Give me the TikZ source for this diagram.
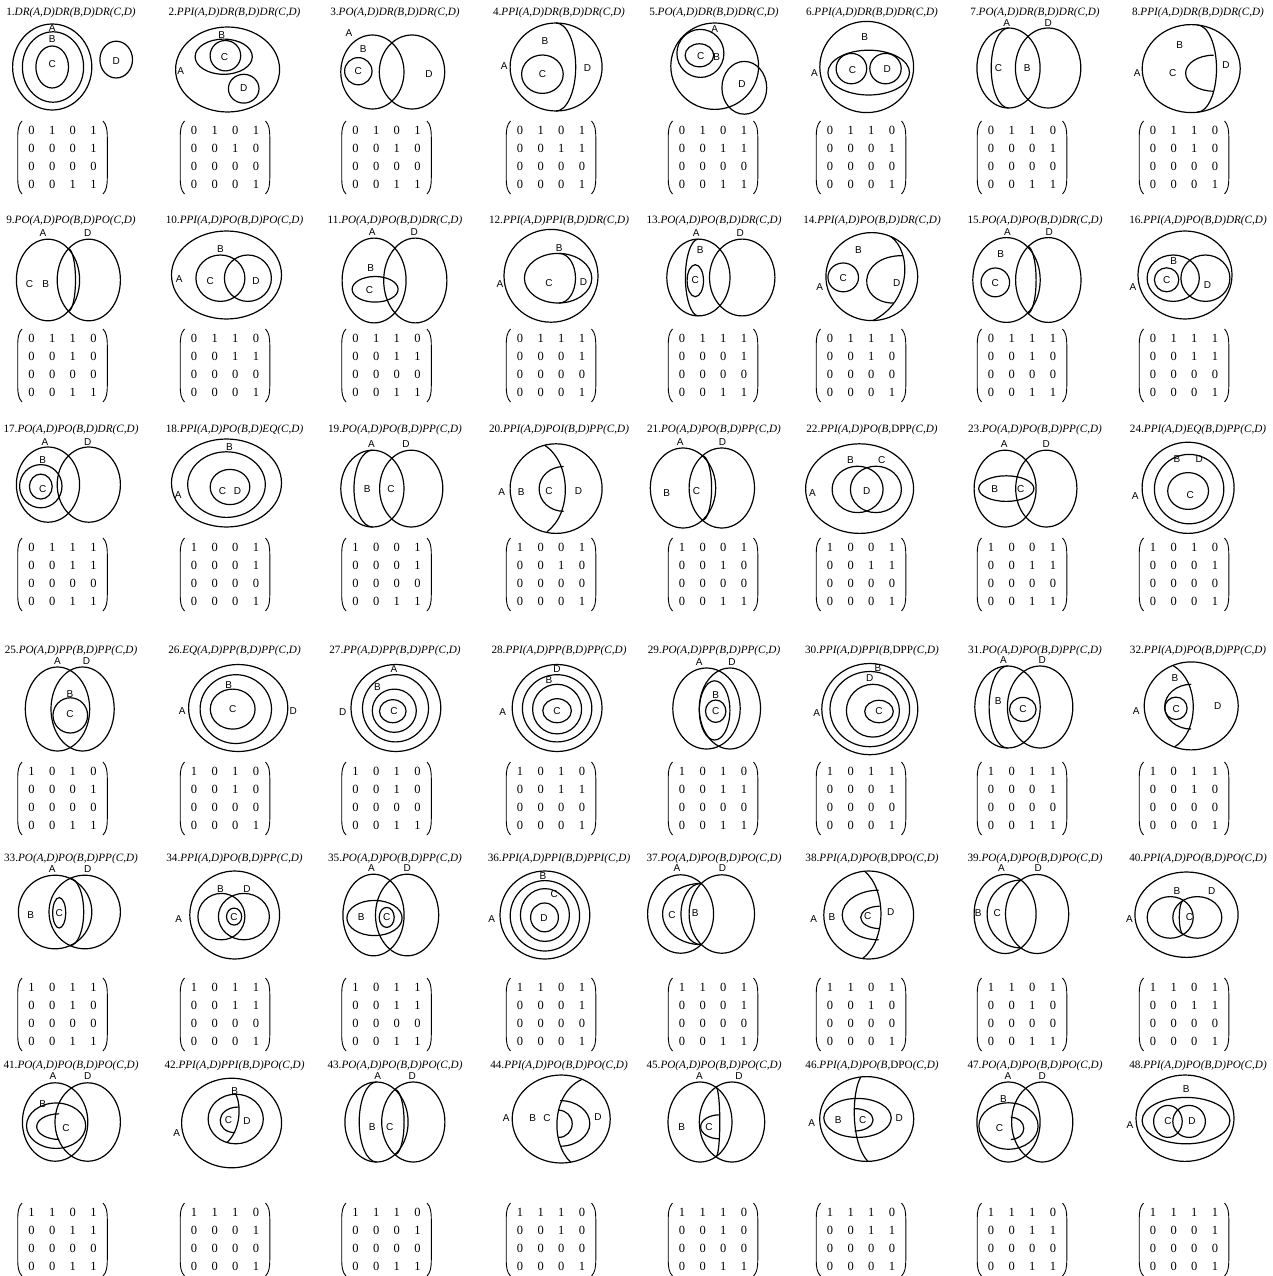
\documentclass[tikz,border=0pt]{standalone}
\usepackage{fontspec}
\setmainfont{Liberation Serif}
\newfontfamily\labfont{Liberation Sans}
\tikzset{
  dl/.style={line width=1.2pt},
  lab/.style={font=\labfont\fontsize{10}{11}\selectfont, inner sep=0pt},
  ttl/.style={font=\fontsize{11.2}{12}\selectfont, inner sep=0pt},
  matx/.style={font=\fontsize{12.5}{18.2}\selectfont, align=center, inner sep=0pt},
  brk/.style={line width=0.9pt}
}
\newcommand\Ell[4]{\draw[dl] (#1,#2) ellipse [x radius=#3pt, y radius=#4pt];}
\newcommand\RHalf[4]{\draw[dl] (#1,{#2-(#4)}) arc[start angle=90,end angle=-90,x radius=#3pt,y radius=#4pt];}
\newcommand\LHalf[4]{\draw[dl] (#1,{#2-(#4)}) arc[start angle=90,end angle=270,x radius=#3pt,y radius=#4pt];}
\newcounter{lbc}
\newcommand\Lbl[3]{\stepcounter{lbc}\node[lab] (lb\arabic{lbc}) at (#1,#2) {#3};}
\newcommand\Ttl[4]{\node[ttl] (#1) at (#2,#3) {#4};}
\def\mrow#1#2#3#4{\makebox[20.6pt]{#1}\makebox[20.6pt]{#2}\makebox[20.6pt]{#3}\makebox[20.6pt]{#4}}
\newcommand\Mat[7]{%
  \node[matx] (#1) at (#2,{#3+36.5}) {\mrow#4\\\mrow#5\\\mrow#6\\\mrow#7};
  \draw[brk] ({#2-40.5},#3) .. controls ({#2-44},{#3+3.5}) and ({#2-44.8},{#3+9}) .. ({#2-44.8},{#3+16}) -- ({#2-44.8},{#3+57}) .. controls ({#2-44.8},{#3+64}) and ({#2-44},{#3+69.5}) .. ({#2-40.5},{#3+73});
  \draw[brk] ({#2+40.5},#3) .. controls ({#2+44},{#3+3.5}) and ({#2+44.8},{#3+9}) .. ({#2+44.8},{#3+16}) -- ({#2+44.8},{#3+57}) .. controls ({#2+44.8},{#3+64}) and ({#2+44},{#3+69.5}) .. ({#2+40.5},{#3+73});
}
\begin{document}
\begin{tikzpicture}[x=1pt,y=-1pt]
\useasboundingbox (0,0) rectangle (1272,1276);
\fill[white] (0,0) rectangle (1272,1276);

% ---------- titles ----------
\Ttl{t1}{71}{13}{1.\textit{DR(A,D)DR(B,D)DR(C,D)}}
\Ttl{t2}{234.5}{13}{2.\textit{PPI(A,D)DR(B,D)DR(C,D)}}
\Ttl{t3}{395}{13}{3.\textit{PO(A,D)DR(B,D)DR(C,D)}}
\Ttl{t4}{559}{13}{4.\textit{PPI(A,D)DR(B,D)DR(C,D)}}
\Ttl{t5}{714}{13}{5.\textit{PO(A,D)DR(B,D)DR(C,D)}}
\Ttl{t6}{872}{13}{6.\textit{PPI(A,D)DR(B,D)DR(C,D)}}
\Ttl{t7}{1035}{13}{7.\textit{PO(A,D)DR(B,D)DR(C,D)}}
\Ttl{t8}{1198}{13}{8.\textit{PPI(A,D)DR(B,D)DR(C,D)}}
\Ttl{t9}{71}{221}{9.\textit{PO(A,D)PO(B,D)PO(C,D)}}
\Ttl{t10}{234.5}{221}{10.\textit{PPI(A,D)PO(B,D)PO(C,D)}}
\Ttl{t11}{395}{221}{11.\textit{PO(A,D)PO(B,D)DR(C,D)}}
\Ttl{t12}{559}{221}{12.\textit{PPI(A,D)PPI(B,D)DR(C,D)}}
\Ttl{t13}{714}{221}{13.\textit{PO(A,D)PO(B,D)DR(C,D)}}
\Ttl{t14}{872}{221}{14.\textit{PPI(A,D)PO(B,D)DR(C,D)}}
\Ttl{t15}{1035}{221}{15.\textit{PO(A,D)PO(B,D)DR(C,D)}}
\Ttl{t16}{1198}{221}{16.\textit{PPI(A,D)PO(B,D)DR(C,D)}}
\Ttl{t17}{71}{430}{17.\textit{PO(A,D)PO(B,D)DR(C,D)}}
\Ttl{t18}{234.5}{430}{18.\textit{PPI(A,D)PO(B,D)EQ(C,D)}}
\Ttl{t19}{395}{430}{19.\textit{PO(A,D)PO(B,D)PP(C,D)}}
\Ttl{t20}{559}{430}{20.\textit{PPI(A,D)POI(B,D)PP(C,D)}}
\Ttl{t21}{714}{430}{21.\textit{PO(A,D)PO(B,D)PP(C,D)}}
\Ttl{t22}{872}{430}{22.\textit{PPI(A,D)PO(B,}DPP\textit{(C,D)}}
\Ttl{t23}{1035}{430}{23.\textit{PO(A,D)PO(B,D)PP(C,D)}}
\Ttl{t24}{1198}{430}{24.\textit{PPI(A,D)EQ(B,D)PP(C,D)}}
\Ttl{t25}{71}{651}{25.\textit{PO(A,D)PP(B,D)PP(C,D)}}
\Ttl{t26}{234.5}{651}{26.\textit{EQ(A,D)PP(B,D)PP(C,D)}}
\Ttl{t27}{395}{651}{27.\textit{PP(A,D)PP(B,D)PP(C,D)}}
\Ttl{t28}{559}{651}{28.\textit{PPI(A,D)PP(B,D)PP(C,D)}}
\Ttl{t29}{714}{651}{29.\textit{PO(A,D)PP(B,D)PP(C,D)}}
\Ttl{t30}{872}{651}{30.\textit{PPI(A,D)PPI(B,}DPP\textit{(C,D)}}
\Ttl{t31}{1035}{651}{31.\textit{PO(A,D)PO(B,D)PP(C,D)}}
\Ttl{t32}{1198}{651}{32.\textit{PPI(A,D)PO(B,D)PP(C,D)}}
\Ttl{t33}{71}{859}{33.\textit{PO(A,D)PO(B,D)PP(C,D)}}
\Ttl{t34}{234.5}{859}{34.\textit{PPI(A,D)PO(B,D)PP(C,D)}}
\Ttl{t35}{395}{859}{35.\textit{PO(A,D)PO(B,D)PP(C,D)}}
\Ttl{t36}{559}{859}{36.\textit{PPI(A,D)PPI(B,D)PPI(C,D)}}
\Ttl{t37}{714}{859}{37.\textit{PO(A,D)PO(B,D)PO(C,D)}}
\Ttl{t38}{872}{859}{38.\textit{PPI(A,D)PO(B,}DPO\textit{(C,D)}}
\Ttl{t39}{1035}{859}{39.\textit{PO(A,D)PO(B,D)PO(C,D)}}
\Ttl{t40}{1198}{859}{40.\textit{PPI(A,D)PO(B,D)PO(C,D)}}
\Ttl{t41}{71}{1066}{41.\textit{PO(A,D)PO(B,D)PO(C,D)}}
\Ttl{t42}{234.5}{1066}{42.\textit{PPI(A,D)PPI(B,D)PO(C,D)}}
\Ttl{t43}{395}{1066}{43.\textit{PO(A,D)PO(B,D)PO(C,D)}}
\Ttl{t44}{559}{1066}{44.\textit{PPI(A,D)PO(B,D)PO(C,D)}}
\Ttl{t45}{714}{1066}{45.\textit{PO(A,D)PO(B,D)PO(C,D)}}
\Ttl{t46}{872}{1066}{46.\textit{PPI(A,D)PO(B,}DPO\textit{(C,D)}}
\Ttl{t47}{1035}{1066}{47.\textit{PO(A,D)PO(B,D)PO(C,D)}}
\Ttl{t48}{1198}{1066}{48.\textit{PPI(A,D)PO(B,D)PO(C,D)}}

% ---------- matrices ----------
\Mat{m1}{62.5}{121}{0101}{0001}{0000}{0011}
\Mat{m2}{225}{121}{0101}{0010}{0000}{0001}
\Mat{m3}{386.5}{121}{0101}{0010}{0000}{0011}
\Mat{m4}{551}{121}{0101}{0011}{0000}{0001}
\Mat{m5}{713}{121}{0101}{0011}{0000}{0011}
\Mat{m6}{861}{121}{0110}{0001}{0000}{0001}
\Mat{m7}{1022}{121}{0110}{0001}{0000}{0011}
\Mat{m8}{1184}{121}{0110}{0010}{0000}{0001}
\Mat{m9}{62.5}{329}{0110}{0010}{0000}{0011}
\Mat{m10}{225}{329}{0110}{0011}{0000}{0001}
\Mat{m11}{386.5}{329}{0110}{0011}{0000}{0011}
\Mat{m12}{551}{329}{0111}{0001}{0000}{0001}
\Mat{m13}{713}{329}{0111}{0001}{0000}{0011}
\Mat{m14}{861}{329}{0111}{0010}{0000}{0001}
\Mat{m15}{1022}{329}{0111}{0010}{0000}{0011}
\Mat{m16}{1184}{329}{0111}{0011}{0000}{0001}
\Mat{m17}{62.5}{538}{0111}{0011}{0000}{0011}
\Mat{m18}{225}{538}{1001}{0001}{0000}{0001}
\Mat{m19}{386.5}{538}{1001}{0001}{0000}{0011}
\Mat{m20}{551}{538}{1001}{0010}{0000}{0001}
\Mat{m21}{713}{538}{1001}{0010}{0000}{0011}
\Mat{m22}{861}{538}{1001}{0011}{0000}{0001}
\Mat{m23}{1022}{538}{1001}{0011}{0000}{0011}
\Mat{m24}{1184}{538}{1010}{0001}{0000}{0001}
\Mat{m25}{62.5}{762}{1010}{0001}{0000}{0011}
\Mat{m26}{225}{762}{1010}{0010}{0000}{0001}
\Mat{m27}{386.5}{762}{1010}{0010}{0000}{0011}
\Mat{m28}{551}{762}{1010}{0011}{0000}{0001}
\Mat{m29}{713}{762}{1010}{0011}{0000}{0011}
\Mat{m30}{861}{762}{1011}{0001}{0000}{0001}
\Mat{m31}{1022}{762}{1011}{0001}{0000}{0011}
\Mat{m32}{1184}{762}{1011}{0010}{0000}{0001}
\Mat{m33}{62.5}{978}{1011}{0010}{0000}{0011}
\Mat{m34}{225}{978}{1011}{0011}{0000}{0001}
\Mat{m35}{386.5}{978}{1011}{0011}{0000}{0011}
\Mat{m36}{551}{978}{1101}{0001}{0000}{0001}
\Mat{m37}{713}{978}{1101}{0001}{0000}{0011}
\Mat{m38}{861}{978}{1101}{0010}{0000}{0001}
\Mat{m39}{1022}{978}{1101}{0010}{0000}{0011}
\Mat{m40}{1184}{978}{1101}{0011}{0000}{0001}
\Mat{m41}{62.5}{1203}{1101}{0011}{0000}{0011}
\Mat{m42}{225}{1203}{1110}{0001}{0000}{0001}
\Mat{m43}{386.5}{1203}{1110}{0001}{0000}{0011}
\Mat{m44}{551}{1203}{1110}{0010}{0000}{0001}
\Mat{m45}{713}{1203}{1110}{0010}{0000}{0011}
\Mat{m46}{861}{1203}{1110}{0011}{0000}{0001}
\Mat{m47}{1022}{1203}{1110}{0011}{0000}{0011}
\Mat{m48}{1184}{1203}{1111}{0001}{0000}{0001}

% ---------- row 1 ----------
\begin{scope}[shift={(52.2,67)}]
\Ell{0}{0}{39.6}{43}\Ell{0.8}{0}{30.6}{35.2}\Ell{0}{0}{16.3}{21}\Ell{64}{-7.4}{16.3}{18.4}
\Lbl{0}{-39.4}{A}\Lbl{0}{-28}{B}\Lbl{0}{-3}{C}\Lbl{64}{-5.5}{D}
\end{scope}
\begin{scope}[shift={(227.6,69.5)}]
\Ell{0}{0}{52}{42.5}\Ell{-3.9}{-12.8}{28.6}{17.6}\Ell{-2.2}{-13.8}{15.3}{15.2}\Ell{16.1}{19.2}{15.3}{14.4}
\Lbl{-47}{2}{A}\Lbl{-6}{-34}{B}\Lbl{-3}{-12}{C}\Lbl{16.1}{19}{D}
\end{scope}
\begin{scope}[shift={(392.2,72)}]
\Ell{-19.8}{0}{31.6}{37}\Ell{19.8}{0}{32.7}{37}\Ell{-33.9}{-0.8}{13.7}{13.6}
\Lbl{-43.3}{-39}{A}\Lbl{-29}{-23}{B}\Lbl{-33.9}{-0.8}{C}\Lbl{36.7}{1.6}{D}
\end{scope}
\begin{scope}[shift={(556.1,67)}]
\Ell{0}{0}{46}{44}\RHalf{0}{0}{19.6}{44}\Ell{-13.7}{7.2}{20.8}{19.2}
\Lbl{-52}{-1}{A}\Lbl{-11.2}{-25.8}{B}\Lbl{-13.5}{7.5}{C}\Lbl{31.5}{0.8}{D}
\end{scope}
\begin{scope}[shift={(714.7,66.2)}]
\Ell{0}{0}{43.9}{43.2}\Ell{-14.3}{-12.8}{23.5}{24}\Ell{-15.3}{-10.9}{14.3}{11.5}\Ell{29.6}{21.6}{22.4}{26.4}
\Lbl{0}{-37}{A}\Lbl{-14}{-10}{C}\Lbl{2}{-9}{B}\Lbl{27.3}{17.6}{D}
\end{scope}
\begin{scope}[shift={(866.7,67)}]
\Ell{0}{0}{46.9}{45.6}\Ell{2}{5.6}{40.8}{22.4}\Ell{-15.3}{1.6}{15.3}{15.2}\Ell{18.8}{1.6}{15.7}{15.2}
\Lbl{-2}{-29.6}{B}\Lbl{-52.2}{5.6}{A}\Lbl{-14.3}{3}{C}\Lbl{20.4}{2.4}{D}
\end{scope}
\begin{scope}[shift={(1028.3,68)}]
\Ell{-19.8}{0}{31.6}{40}\Ell{19.8}{0}{32.7}{40}\LHalf{-19.8}{0}{17.3}{40}
\Lbl{-21.6}{-45}{A}\Lbl{20}{-45}{D}\Lbl{-29.8}{0}{C}\Lbl{-1.2}{0}{B}
\end{scope}
\begin{scope}[shift={(1191.2,68.6)}]
\Ell{0}{0}{49}{44}\RHalf{6}{0}{19.3}{43.6}\LHalf{22.4}{4.6}{28}{18}
\Lbl{-11.4}{-23.8}{B}\Lbl{-54}{4.6}{A}\Lbl{-18.4}{4}{C}\Lbl{34.7}{-3.7}{D}
\end{scope}

% ---------- row 2 ----------
\begin{scope}[shift={(68.4,280)}]
\Ell{-20.4}{0}{31.6}{40.8}\Ell{20.4}{0}{31.6}{40.8}\RHalf{0}{0}{7.1}{31.2}
\Lbl{-25.5}{-47}{A}\Lbl{19.4}{-47}{D}\Lbl{-38.9}{4}{C}\Lbl{-22.7}{4}{B}
\end{scope}
\begin{scope}[shift={(226.5,275)}]
\Ell{0}{0}{55}{44}\Ell{-6.1}{3.2}{24.5}{23.2}\Ell{21.4}{3.2}{23.5}{23.2}
\Lbl{-6.1}{-26.4}{B}\Lbl{-47.3}{4}{A}\Lbl{-16.3}{5.6}{C}\Lbl{29.6}{5.6}{D}
\end{scope}
\begin{scope}[shift={(394.7,280.5)}]
\Ell{-20.6}{0}{32}{42.4}\Ell{20.6}{0}{31.6}{42.4}\Ell{-19.6}{8.8}{23}{12.8}
\Lbl{-22.4}{-48}{A}\Lbl{19.6}{-48}{D}\Lbl{-24}{-12}{B}\Lbl{-25.3}{9.4}{C}
\end{scope}
\begin{scope}[shift={(551,275.8)}]
\Ell{0}{0}{47}{46.4}\Ell{7.1}{2.4}{33.7}{24.8}\RHalf{8.2}{2.4}{16.3}{24.8}
\Lbl{8.2}{-27.7}{B}\Lbl{-51}{8.6}{A}\Lbl{-2}{7.4}{C}\Lbl{32.6}{6.4}{D}
\end{scope}
\begin{scope}[shift={(720.2,277.5)}]
\Ell{-21.8}{0}{31.6}{38.4}\Ell{22}{0}{32.7}{38.4}\LHalf{-21.8}{0}{13}{38.4}\Ell{-24.9}{3.2}{8.2}{16}
\Lbl{-24}{-44}{A}\Lbl{20}{-44}{D}\Lbl{-20}{-27.8}{B}\Lbl{-24.9}{2.2}{C}
\end{scope}
\begin{scope}[shift={(871.8,276.6)}]
\Ell{0}{0}{45.9}{44}
\draw[dl] (19,-40) .. controls (40,-25) and (40,25) .. (1,44);
\draw[dl] (31,-21) .. controls (-15.5,-21) and (-15.5,26.5) .. (22,26.5);
\Ell{-28.6}{0.8}{15.3}{14.4}
\Lbl{-13.3}{-26.4}{B}\Lbl{-52}{10}{A}\Lbl{-28.6}{1.4}{C}\Lbl{25}{6}{D}
\end{scope}
\begin{scope}[shift={(1027.1,280)}]
\Ell{-20.6}{0}{33.7}{42.4}\Ell{21.2}{0}{32.7}{42.4}\RHalf{0.3}{0}{8.7}{33.6}\Ell{-31.8}{2.4}{14.3}{14.4}
\Lbl{-19.6}{-48.4}{A}\Lbl{22}{-48.4}{D}\Lbl{-26.5}{-26}{B}\Lbl{-31.8}{3}{C}
\end{scope}
\begin{scope}[shift={(1185,275)}]
\Ell{0}{0}{47}{44}\Ell{-11.8}{3.2}{26.1}{23.2}\Ell{20.4}{3.2}{24.5}{23.2}\Ell{-18.4}{4.8}{12.2}{12}
\Lbl{-52}{12}{A}\Lbl{-11.4}{-13.6}{B}\Lbl{-18.4}{5}{C}\Lbl{22.4}{10.4}{D}
\end{scope}

% ---------- row 3 ----------
\begin{scope}[shift={(68.4,484.6)}]
\Ell{-20.4}{0}{31.6}{37.6}\Ell{20.4}{0}{31.6}{37.6}\Ell{-27.6}{1.6}{21.2}{21.6}\Ell{-27.6}{2}{11.4}{12.5}
\Lbl{-23.5}{-43}{A}\Lbl{19.4}{-43}{D}\Lbl{-25.7}{-24.5}{B}\Lbl{-25.7}{4}{C}
\end{scope}
\begin{scope}[shift={(226.5,483)}]
\Ell{0}{0}{55}{44}\Ell{0}{1.6}{38.8}{32.8}\Ell{3.5}{4}{19.8}{17.6}
\Lbl{2.9}{-36}{B}\Lbl{-48.2}{12}{A}\Lbl{-4}{8}{C}\Lbl{11}{8}{D}
\end{scope}
\begin{scope}[shift={(391.8,488.6)}]
\Ell{-19.4}{0}{31.6}{38.4}\Ell{19.4}{0}{31.6}{38.4}\LHalf{-19.4}{0}{18.4}{38.4}
\Lbl{-20.4}{-44.5}{A}\Lbl{14.3}{-44.5}{D}\Lbl{-24.5}{0}{B}\Lbl{-0.8}{0}{C}
\end{scope}
\begin{scope}[shift={(556.1,488.6)}]
\Ell{0}{0}{46}{44.8}
\draw[dl] (-11.2,-43.2) .. controls (15.7,-25) and (15.7,25) .. (-9.2,43.2);
\LHalf{7.5}{0.3}{24.5}{22.4}
\Lbl{-54.5}{3.2}{A}\Lbl{-35}{3.2}{B}\Lbl{-7.1}{2.6}{C}\Lbl{22.4}{2.6}{D}
\end{scope}
\begin{scope}[shift={(702.4,488)}]
\Ell{-19.4}{0}{32.7}{40}\Ell{19.4}{0}{32.7}{40}\RHalf{0}{0}{9.2}{32.2}
\Lbl{-22.2}{-46}{A}\Lbl{20.2}{-46}{D}\Lbl{-35.7}{4.8}{B}\Lbl{-5.9}{3.2}{C}
\end{scope}
\begin{scope}[shift={(859.6,488.6)}]
\Ell{0}{0}{54}{44.8}\Ell{-2}{0.8}{25.5}{23.2}\Ell{16.3}{0.8}{25.5}{23.2}
\Lbl{-9.2}{-28.8}{B}\Lbl{22.2}{-28.8}{C}\Lbl{-47.1}{4.2}{A}\Lbl{7.1}{2.2}{D}
\end{scope}
\begin{scope}[shift={(1025.7,488.6)}]
\Ell{-20.6}{0}{31}{38.4}\Ell{20.6}{0}{30.6}{38.4}\Ell{-19.4}{0}{27.6}{12.8}
\Lbl{-21.4}{-44.5}{A}\Lbl{20.6}{-44.5}{D}\Lbl{-31}{0}{B}\Lbl{-5.1}{0}{C}
\end{scope}
\begin{scope}[shift={(1188.1,487.8)}]
\Ell{0}{0}{46}{45.6}\Ell{1}{1.3}{34.7}{34.7}\Ell{0}{3.2}{20.4}{18.4}
\Lbl{-11.2}{-29}{B}\Lbl{11.2}{-29}{D}\Lbl{-53}{8}{A}\Lbl{2.2}{7.2}{C}
\end{scope}

% ---------- row 4 ----------
\begin{scope}[shift={(70,709)}]
\Ell{-12.5}{0}{32.2}{42}\Ell{12.6}{0}{31.6}{42}\Ell{0.3}{6.4}{17.3}{17.6}
\Lbl{-12.5}{-48}{A}\Lbl{16.5}{-48}{D}\Lbl{0}{-15}{B}\Lbl{0}{5.4}{C}
\end{scope}
\begin{scope}[shift={(238.2,708)}]
\Ell{0}{0}{49.6}{43.5}\Ell{-2.4}{1.1}{35.7}{34.4}\Ell{-5.5}{1.1}{22.4}{20}
\Lbl{-56}{3.5}{A}\Lbl{55}{3.5}{D}\Lbl{-9.6}{-23}{B}\Lbl{-5.5}{1.3}{C}
\end{scope}
\begin{scope}[shift={(395.9,708)}]
\Ell{0}{0}{44.9}{43.5}\Ell{-0.4}{0.3}{33}{33.6}\Ell{-1.6}{2.7}{22}{21.6}\Ell{-3.1}{3.2}{13.3}{11.5}
\Lbl{-2}{-38.5}{A}\Lbl{-18.4}{-21}{B}\Lbl{-2}{3.5}{C}\Lbl{-53.1}{4.5}{D}
\end{scope}
\begin{scope}[shift={(557.1,708)}]
\Ell{0}{0}{44.9}{43.5}\Ell{0}{0.3}{34.7}{33.6}\Ell{0}{1.1}{24.5}{24.8}\Ell{0}{2.7}{14.3}{12}
\Lbl{0}{-38.5}{D}\Lbl{-8.2}{-27.5}{B}\Lbl{0}{2.6}{C}\Lbl{-54.3}{4.5}{A}
\end{scope}
\begin{scope}[shift={(718.1,708.5)}]
\Ell{-11.6}{0}{33.7}{40.5}\Ell{11.8}{0}{30.6}{40.5}\Ell{-3.5}{1.9}{15.3}{29.6}\Ell{-2.4}{2.7}{10.2}{11.2}
\Lbl{-18.8}{-46.5}{A}\Lbl{13.9}{-46.5}{D}\Lbl{-2.4}{-13.3}{B}\Lbl{-2.4}{2.7}{C}
\end{scope}
\begin{scope}[shift={(869.8,709.1)}]
\Ell{0}{0}{48}{45.6}\Ell{0}{0}{39.8}{37.6}\Ell{3.1}{1.6}{26.5}{26.4}\Ell{9.2}{2.4}{14.3}{11.2}
\Lbl{8.2}{-41.5}{B}\Lbl{0}{-31}{D}\Lbl{9.2}{1.5}{C}\Lbl{-53}{3.5}{A}
\end{scope}
\begin{scope}[shift={(1023.8,707)}]
\Ell{-16.3}{0}{32.7}{41}\Ell{16.3}{0}{32.7}{41}\LHalf{-16.3}{0}{18.4}{41}\Ell{-1}{2.4}{13.3}{12}
\Lbl{-20.4}{-47}{A}\Lbl{18.4}{-47}{D}\Lbl{-25.7}{-6.4}{B}\Lbl{-0.8}{2.4}{C}
\end{scope}
\begin{scope}[shift={(1191.2,705.9)}]
\Ell{0}{0}{47}{44}
\draw[dl] (-18.4,-40.5) .. controls (8.5,-25) and (8.5,25) .. (-16.3,40.8);
\LHalf{0}{0.8}{26.5}{22.4}\Ell{-15.3}{2.4}{11.2}{11.2}
\Lbl{-16.3}{-28}{B}\Lbl{-55}{5.6}{A}\Lbl{-15.1}{3.4}{C}\Lbl{26.5}{0.2}{D}
\end{scope}

% ---------- row 5 ----------
\begin{scope}[shift={(69.8,912)}]
\Ell{-14.7}{0}{36.7}{36.8}\Ell{14.9}{0}{35.7}{36.8}\RHalf{0}{0}{13.9}{33.7}\Ell{-10.6}{0.8}{6.5}{15.2}
\Lbl{-17.6}{-43}{A}\Lbl{18}{-43}{D}\Lbl{-39.2}{3.2}{B}\Lbl{-10.6}{0.6}{C}
\end{scope}
\begin{scope}[shift={(234.7,915)}]
\Ell{0}{0}{44.9}{44}\Ell{-13.3}{1.6}{23.5}{23.2}\Ell{9.2}{1.6}{25.5}{23.2}\Ell{-0.6}{1.6}{7.6}{8.5}
\Lbl{-14.3}{-26.4}{B}\Lbl{12.2}{-26.4}{D}\Lbl{-55.9}{4}{A}\Lbl{-0.6}{1.6}{C}
\end{scope}
\begin{scope}[shift={(390.2,915)}]
\Ell{-16.7}{0}{30.6}{40.8}\Ell{16.9}{0}{31.6}{40.8}\Ell{-15.7}{3}{27.6}{17.6}\Ell{-3.5}{2.4}{7.5}{10}
\Lbl{-18.8}{-47}{A}\Lbl{17.1}{-47}{D}\Lbl{-29}{2.4}{B}\Lbl{-3.5}{2.4}{C}
\end{scope}
\begin{scope}[shift={(544.9,915)}]
\Ell{0}{0}{44.9}{44}\Ell{0}{0.8}{34.7}{35.2}\Ell{0}{0}{24.5}{26.4}\Ell{-0.4}{2.4}{13.9}{14.4}
\Lbl{-2}{-38.5}{B}\Lbl{9.4}{-20.5}{C}\Lbl{-0.8}{3}{D}\Lbl{-53.1}{4}{A}
\end{scope}
\begin{scope}[shift={(701.2,914)}]
\Ell{-20.6}{0}{33}{39.2}\Ell{20.6}{0}{32.7}{39.2}\LHalf{0}{0}{38.6}{30.6}\LHalf{0}{0}{20.2}{30.6}
\Lbl{-24.3}{-45.5}{A}\Lbl{21.4}{-45.5}{D}\Lbl{-29.2}{0.8}{C}\Lbl{-5.9}{-0.8}{B}
\end{scope}
\begin{scope}[shift={(868.7,915)}]
\Ell{0}{0}{44.9}{44}
\draw[dl] (-4.1,-43.8) .. controls (18,-25) and (18,25) .. (-6.1,43.5);
\LHalf{10}{0}{36.5}{24.8}\LHalf{11}{2.4}{19}{11.2}
\Lbl{-55.1}{4}{A}\Lbl{-36.7}{2.4}{B}\Lbl{-1}{1}{C}\Lbl{22}{-3}{D}
\end{scope}
\begin{scope}[shift={(1021,914)}]
\Ell{-15.9}{0}{31}{39.5}\Ell{16.1}{0}{31.6}{39.5}\LHalf{0}{0}{33.9}{33.9}
\Lbl{-19.6}{-45.5}{A}\Lbl{17.1}{-45.5}{D}\Lbl{-42.9}{-0.5}{B}\Lbl{-23.7}{-0.5}{C}
\end{scope}
\begin{scope}[shift={(1186.5,914.7)}]
\Ell{0}{0}{51.6}{42.7}\Ell{-16.3}{2.7}{23}{20.8}\Ell{10.8}{2.7}{24.5}{20.8}\LHalf{-3.2}{2.7}{4}{17.1}
\Lbl{-9.6}{-24}{B}\Lbl{25.1}{-24}{D}\Lbl{-57}{4.3}{A}\Lbl{3}{2.7}{C}
\end{scope}

% ---------- row 6 ----------
\begin{scope}[shift={(71.4,1122)}]
\Ell{-16.3}{0}{32.7}{39.2}\Ell{16.3}{0}{32.7}{39.2}\Ell{-15.3}{3.7}{29.6}{22.7}\LHalf{-12.2}{4.6}{22.5}{12.8}
\Lbl{-18.4}{-45.5}{A}\Lbl{16.3}{-45.5}{D}\Lbl{-28.6}{-18}{B}\Lbl{-5.3}{5.6}{C}
\end{scope}
\begin{scope}[shift={(231.6,1123)}]
\Ell{0}{0}{50}{44.8}\Ell{4.1}{-4}{27.6}{24.8}
\draw[dl] (4.1,-28.8) .. controls (10,-18) and (9,8) .. (-5.1,19.8);
\draw[dl] (7.4,-16) .. controls (-17,-16) and (-17,9.6) .. (3.5,9.6);
\Lbl{3.1}{-32}{B}\Lbl{-3.1}{-3.2}{C}\Lbl{15.3}{-1.6}{D}\Lbl{-55}{9.6}{A}
\end{scope}
\begin{scope}[shift={(394.9,1122)}]
\Ell{-18.4}{0}{31.6}{40}\Ell{18.4}{0}{31.6}{40}\LHalf{-18.4}{0}{17.3}{40}\RHalf{0}{0}{9.2}{32.5}
\Lbl{-17.3}{-46}{A}\Lbl{17.3}{-46}{D}\Lbl{-22.7}{4.8}{B}\Lbl{-5.1}{4.8}{C}
\end{scope}
\begin{scope}[shift={(561.2,1119)}]
\Ell{0}{0}{49}{44}
\draw[dl] (20.4,-39.5) .. controls (-10.4,-25) and (-10.4,25) .. (9.4,43);
\RHalf{-1}{4.4}{29.6}{22.8}\RHalf{-2.5}{4.8}{13.5}{13.6}
\Lbl{-55}{-0.8}{A}\Lbl{-28.6}{-0.8}{B}\Lbl{-14.3}{-0.8}{C}\Lbl{36.7}{-2.4}{D}
\end{scope}
\begin{scope}[shift={(716,1122)}]
\Ell{-16}{0}{32}{40}\Ell{16}{0}{32.7}{40}\RHalf{0}{0}{3.8}{34.8}\LHalf{3.5}{4.8}{18.9}{12}
\Lbl{-16.6}{-46}{A}\Lbl{23}{-46}{D}\Lbl{-34.2}{4.8}{B}\Lbl{-7}{4.8}{C}
\end{scope}
\begin{scope}[shift={(866.7,1119)}]
\Ell{0}{0}{47}{42.4}
\draw[dl] (-6.1,-41.8) .. controls (-15.5,-25) and (-15.5,25) .. (1.2,42.4);
\Ell{-9.2}{-1.1}{33.7}{19.5}\RHalf{-12}{0.8}{18.4}{11.2}
\Lbl{-55.1}{4}{A}\Lbl{-28.6}{0.8}{B}\Lbl{-4.1}{0.8}{C}\Lbl{32.6}{-0.8}{D}
\end{scope}
\begin{scope}[shift={(1025.4,1122)}]
\Ell{-16.9}{0}{31.6}{40}\Ell{16.8}{0}{30.6}{40}\Ell{-16.9}{4}{29.6}{23.2}\RHalf{-14.6}{6.4}{13}{11.2}
\Lbl{-17.5}{-46}{A}\Lbl{16.8}{-46}{D}\Lbl{-22}{-23}{B}\Lbl{-26}{6.4}{C}
\end{scope}
\begin{scope}[shift={(1185,1118.2)}]
\Ell{0}{0}{49}{43.2}\Ell{1}{2.4}{43.9}{23.2}\Ell{-17.1}{3.2}{14.3}{16}\Ell{4.1}{3.2}{16.3}{16}
\Lbl{1.2}{-29}{B}\Lbl{-55}{6.4}{A}\Lbl{-17}{3}{C}\Lbl{6.9}{3.2}{D}
\end{scope}
\end{tikzpicture}
\end{document}
